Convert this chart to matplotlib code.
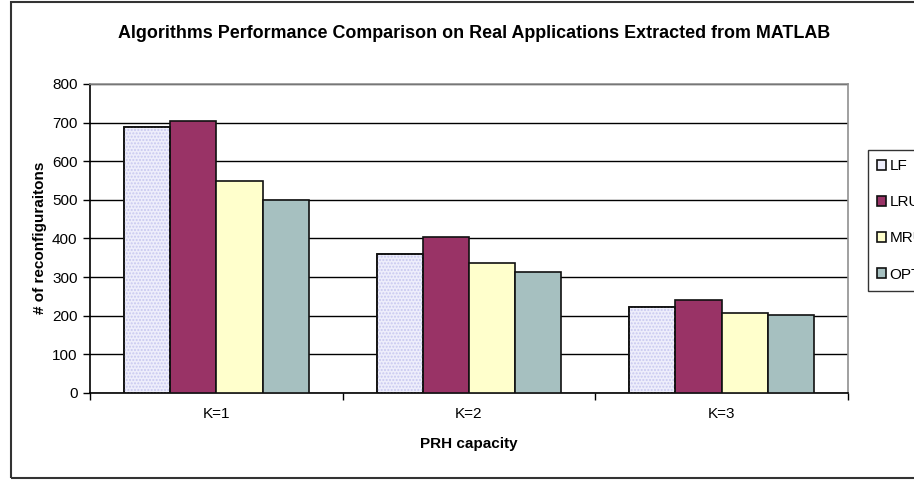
import matplotlib
matplotlib.use("Agg")
import matplotlib.pyplot as plt
import numpy as np
from matplotlib.patches import Rectangle

categories = ["K=1", "K=2", "K=3"]
series_names = ["LF", "LRU", "MRU", "OPT"]
lf = [688, 361, 222]
lru = [704, 404, 242]
mru = [550, 337, 208]
opt = [500, 312, 203]
yticks = [0, 100, 200, 300, 400, 500, 600, 700, 800]

plt.rcParams['font.family'] = ['Liberation Sans', 'DejaVu Sans']

W, H = 914, 480
fig = plt.figure(figsize=(W/100, H/100), dpi=100)
ax = fig.add_axes([90/W, 1-393/H, (848-90)/W, (393-84)/H])

x = np.arange(len(categories))
bw = 0.183
offsets = [-1.5*bw, -0.5*bw, 0.5*bw, 1.5*bw]
colors = ['#EEEEFB', '#993366', '#FFFFCC', '#A6C0C0']
data = [lf, lru, mru, opt]

handles = []
for i, (vals, c) in enumerate(zip(data, colors)):
    b = ax.bar(x + offsets[i], vals, bw, color=c, edgecolor='#111111', linewidth=1.2, zorder=3)
    if i == 0:
        ax.bar(x + offsets[i], vals, bw, fill=False, hatch='.....', edgecolor='#C8C8F0', linewidth=0, zorder=3.5)
        ax.bar(x + offsets[i], vals, bw, fill=False, edgecolor='#111111', linewidth=1.2, zorder=4)
    handles.append(b)

ax.set_xlim(-0.5, 2.5)
ax.set_ylim(0, 800)
ax.set_yticks(yticks)
ax.set_yticklabels([str(v) for v in yticks], fontsize=11)
ax.yaxis.grid(True, color='black', linewidth=1.0, zorder=0)
ax.set_axisbelow(True)
ax.set_xticks(x)
ax.set_xticklabels(categories, fontsize=11)
ax.tick_params(axis='x', which='major', length=0, pad=10)
ax.set_xticks([-0.5, 0.5, 1.5, 2.5], minor=True)
ax.tick_params(axis='x', which='minor', length=5, width=1, direction='out')
ax.tick_params(axis='y', length=5, width=1, direction='out', pad=4)
for s in ['left', 'bottom']:
    ax.spines[s].set_color('black')
    ax.spines[s].set_linewidth(1.2)
for s in ['top', 'right']:
    ax.spines[s].set_color('#909090')
    ax.spines[s].set_linewidth(1.2)

fig.text(474/W, 1-33/H, "Algorithms Performance Comparison on Real Applications Extracted from MATLAB",
         ha='center', va='center', fontsize=12.9, fontweight='bold')
fig.text(469/W, 1-444/H, "PRH capacity", ha='center', va='center', fontsize=11, fontweight='bold')
fig.text(40/W, 1-238/H, "# of reconfiguraitons", ha='center', va='center', rotation=90,
         fontsize=11, fontweight='bold')

leg = fig.legend([h[0] for h in handles], series_names, loc='upper left',
                 bbox_to_anchor=(868/W, 1-150/H), fontsize=11, frameon=True, fancybox=False,
                 handlelength=0.6, handleheight=0.6, handletextpad=0.2, labelspacing=1.45,
                 borderpad=0.6, borderaxespad=0)
leg.get_frame().set_edgecolor('black')
leg.get_frame().set_linewidth(1.0)

fig.add_artist(Rectangle((11/W, 1-478/H), 1.0, (478-2)/H, transform=fig.transFigure,
                         fill=False, edgecolor='#333333', linewidth=1.5))

fig.savefig("out.png", dpi=100)
